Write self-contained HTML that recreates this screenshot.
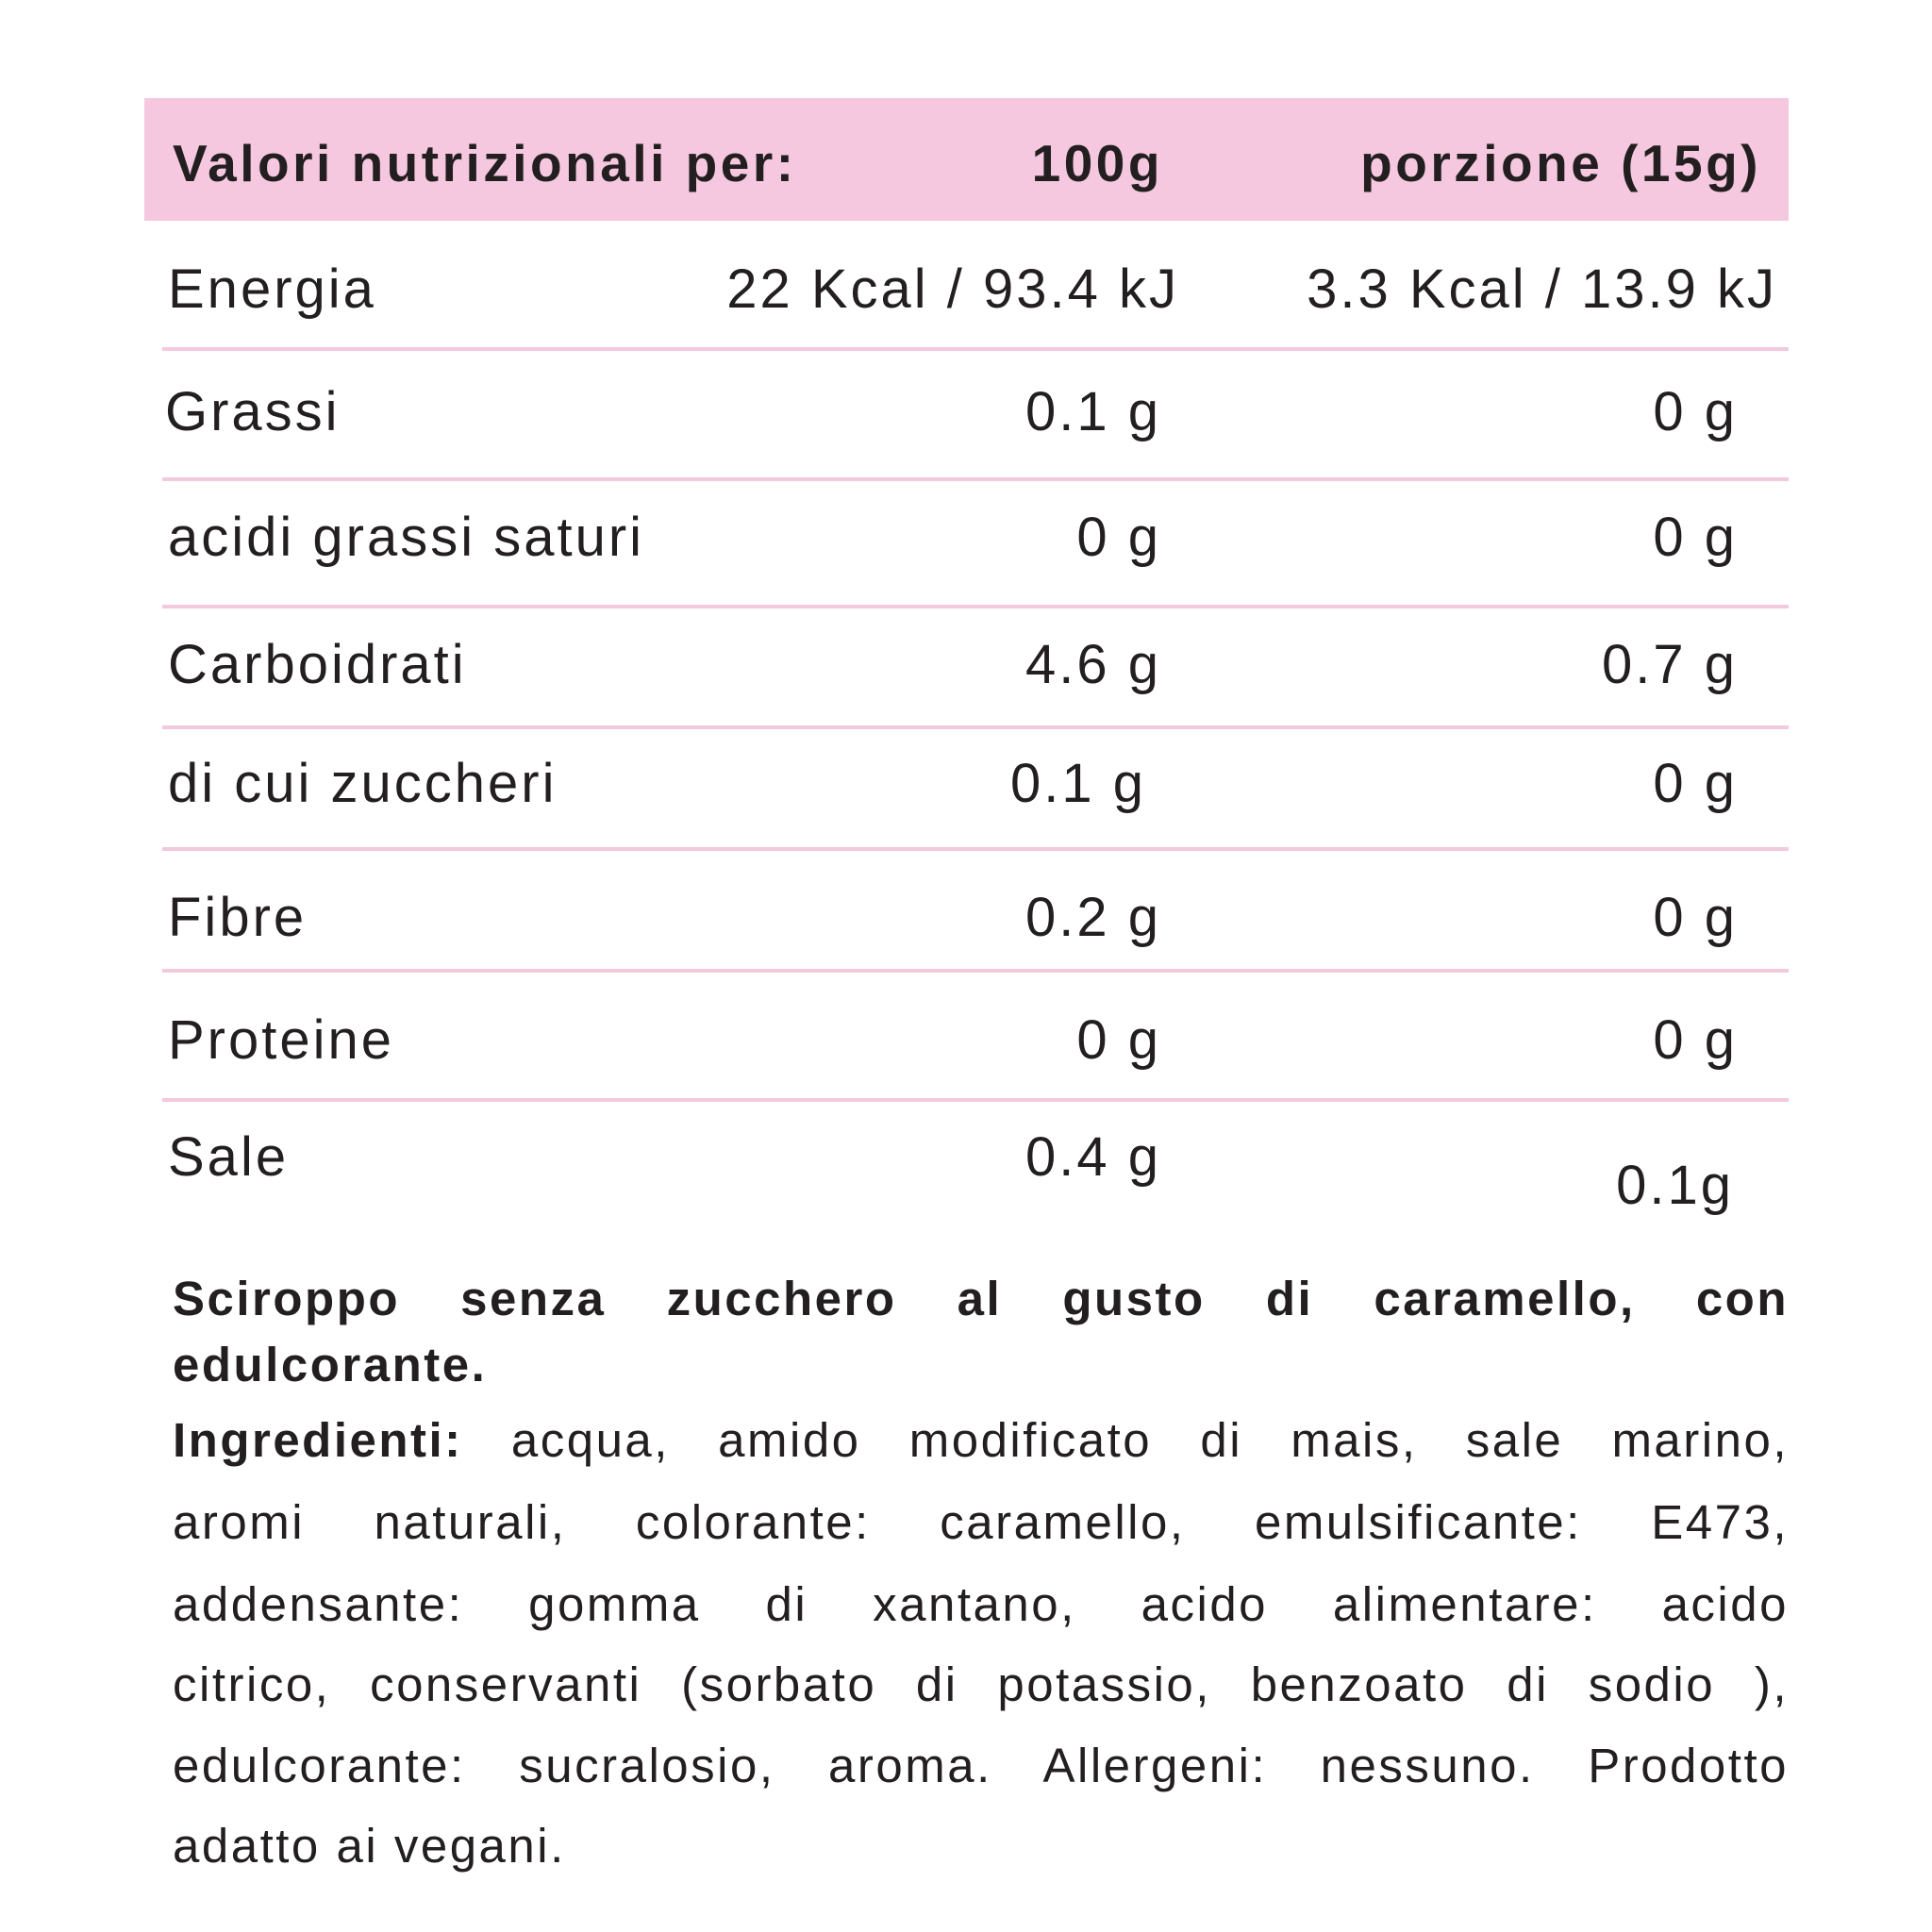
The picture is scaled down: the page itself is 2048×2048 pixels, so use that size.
<!DOCTYPE html>
<html><head><meta charset="utf-8"><style>
body{margin:0;width:2048px;height:2048px;background:#fff;position:relative;overflow:hidden;font-family:"Liberation Sans",sans-serif;color:#231f20}
.t{position:absolute;white-space:nowrap;line-height:1}
.r{text-align:right}
.hl{position:absolute;left:172px;width:1724px;height:4px;background:#f2c9dd}
.row{font-size:58px;letter-spacing:3px}
.hd{font-size:55px;font-weight:bold;letter-spacing:3.5px}
.p{position:absolute;left:183px;width:1713px;font-size:51px;line-height:1;white-space:nowrap;text-align:justify;text-align-last:justify;letter-spacing:2.5px}
.last{text-align-last:left}
</style></head><body>
<div style="position:absolute;left:153px;top:104px;width:1743px;height:130px;background:#f5c8df"></div>
<div class="t hd" style="left:183px;top:146px">Valori nutrizionali per:</div>
<div class="t r hd" style="right:815px;top:146px">100g</div>
<div class="t r hd" style="right:181px;top:146px">porzione (15g)</div>

<div class="hl" style="top:368px"></div>
<div class="hl" style="top:506px"></div>
<div class="hl" style="top:641px"></div>
<div class="hl" style="top:769px"></div>
<div class="hl" style="top:898px"></div>
<div class="hl" style="top:1027px"></div>
<div class="hl" style="top:1164px"></div>

<div class="t row" style="left:178px;top:278px">Energia</div>
<div class="t row r" style="right:798px;top:278px">22 Kcal / 93.4 kJ</div>
<div class="t row r" style="right:164px;top:278px">3.3 Kcal / 13.9 kJ</div>

<div class="t row" style="left:175px;top:408px">Grassi</div>
<div class="t row r" style="right:817px;top:408px">0.1 g</div>
<div class="t row r" style="right:206px;top:408px">0 g</div>

<div class="t row" style="left:178px;top:541px">acidi grassi saturi</div>
<div class="t row r" style="right:817px;top:541px">0 g</div>
<div class="t row r" style="right:206px;top:541px">0 g</div>

<div class="t row" style="left:178px;top:676px">Carboidrati</div>
<div class="t row r" style="right:817px;top:676px">4.6 g</div>
<div class="t row r" style="right:206px;top:676px">0.7 g</div>

<div class="t row" style="left:178px;top:802px">di cui zuccheri</div>
<div class="t row r" style="right:833px;top:802px">0.1 g</div>
<div class="t row r" style="right:206px;top:802px">0 g</div>

<div class="t row" style="left:178px;top:944px">Fibre</div>
<div class="t row r" style="right:817px;top:944px">0.2 g</div>
<div class="t row r" style="right:206px;top:944px">0 g</div>

<div class="t row" style="left:178px;top:1074px">Proteine</div>
<div class="t row r" style="right:817px;top:1074px">0 g</div>
<div class="t row r" style="right:206px;top:1074px">0 g</div>

<div class="t row" style="left:178px;top:1198px">Sale</div>
<div class="t row r" style="right:817px;top:1198px">0.4 g</div>
<div class="t row r" style="right:210px;top:1228px">0.1g</div>

<div class="p" style="top:1351px;font-weight:bold">Sciroppo senza zucchero al gusto di caramello, con</div>
<div class="p last" style="top:1421px;font-weight:bold">edulcorante.</div>
<div class="p" style="top:1501px"><b>Ingredienti:</b> acqua, amido modificato di mais, sale marino,</div>
<div class="p" style="top:1588px">aromi naturali, colorante: caramello, emulsificante: E473,</div>
<div class="p" style="top:1675px">addensante: gomma di xantano, acido alimentare: acido</div>
<div class="p" style="top:1760px">citrico, conservanti (sorbato di potassio, benzoato di sodio ),</div>
<div class="p" style="top:1846px">edulcorante: sucralosio, aroma. Allergeni: nessuno. Prodotto</div>
<div class="p last" style="top:1931px">adatto ai vegani.</div>
</body></html>
